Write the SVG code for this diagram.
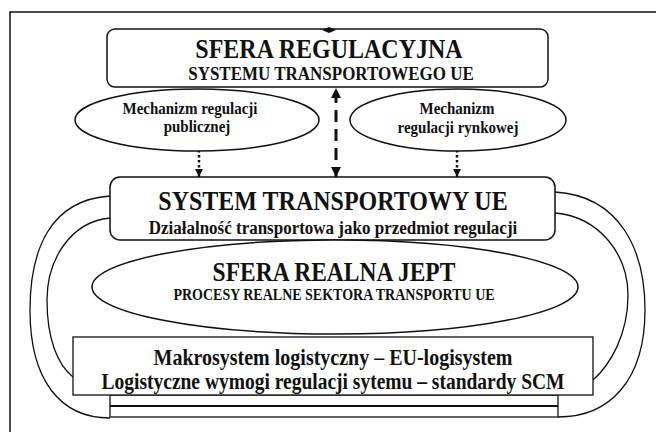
<svg xmlns="http://www.w3.org/2000/svg" width="656" height="432" viewBox="0 0 656 432">
<style>
.s{fill:#fff;stroke:#111;stroke-width:1.5}
.t{font-family:"Liberation Serif","Times New Roman",serif;font-weight:bold;fill:#111;text-anchor:middle}
.c{fill:none;stroke:#111;stroke-width:1.3}
</style>
<defs>
<marker id="ah" viewBox="0 0 10 10" refX="10" refY="5" markerWidth="8" markerHeight="8" markerUnits="userSpaceOnUse" orient="auto"><path d="M0,0 L10,5 L0,10 z" fill="#111"/></marker>
<marker id="ahb" viewBox="0 0 10 10" refX="10" refY="5" markerWidth="11" markerHeight="10" markerUnits="userSpaceOnUse" orient="auto-start-reverse"><path d="M0,0 L10,5 L0,10 z" fill="#111"/></marker>
</defs>
<rect width="656" height="432" fill="#fff"/>
<path d="M10,432 V12 H656" fill="none" stroke="#111" stroke-width="1.5"/>
<g id="connectors">
<path class="c" d="M110,196 C50,200 30,250 30,310 C30,380 60,418 110,418"/>
<path class="c" d="M110,218 C70,222 47,260 47,300 C47,340 58,365 73,377"/>
<path class="c" d="M555,192 C620,196 645,250 645,310 C645,380 610,417 558,417"/>
<path class="c" d="M555,213 C600,217 628,255 628,295 C628,335 610,365 593,380"/>
<line x1="199" y1="150" x2="199" y2="177" stroke="#111" stroke-width="2.5" stroke-dasharray="2.5,2.5" marker-end="url(#ah)"/>
<line x1="457" y1="150" x2="457" y2="177" stroke="#111" stroke-width="2.5" stroke-dasharray="2.5,2.5" marker-end="url(#ah)"/>
<line x1="336" y1="88" x2="336" y2="177" stroke="#111" stroke-width="3" stroke-dasharray="12,7" stroke-dashoffset="-3" marker-start="url(#ahb)" marker-end="url(#ahb)"/>
</g>
<g id="sfera-regulacyjna">
<rect class="s" x="107" y="29" width="441" height="58" rx="8"/>
<path d="M322,30 L329,27 L336,30 L329,33 z" fill="#111"/>
<text class="t" transform="translate(329,58) scale(1,1.15)" font-size="24">SFERA REGULACYJNA</text>
<text class="t" transform="translate(331,80) scale(1,1.15)" font-size="17">SYSTEMU TRANSPORTOWEGO UE</text>
</g>
<g id="mech-publ">
<ellipse class="s" cx="197" cy="120" rx="122" ry="31"/>
<text class="t" transform="translate(190,114) scale(1,1.15)" font-size="15">Mechanizm regulacji</text>
<text class="t" transform="translate(197,132) scale(1,1.15)" font-size="15">publicznej</text>
</g>
<g id="mech-rynk">
<ellipse class="s" cx="458" cy="120" rx="108" ry="31"/>
<text class="t" transform="translate(457,114) scale(1,1.15)" font-size="15">Mechanizm</text>
<text class="t" transform="translate(458,133) scale(1,1.15)" font-size="15">regulacji rynkowej</text>
</g>
<g id="system-transportowy">
<rect class="s" x="110" y="177" width="445" height="63" rx="10"/>
<text class="t" transform="translate(333,210) scale(1,1.12)" font-size="24">SYSTEM TRANSPORTOWY UE</text>
<text class="t" transform="translate(333,234) scale(1,1.12)" font-size="17">Działalność transportowa jako przedmiot regulacji</text>
</g>
<g id="sfera-realna">
<ellipse class="s" cx="335" cy="287" rx="243" ry="47"/>
<text class="t" transform="translate(334,281) scale(1,1.12)" font-size="23.5">SFERA REALNA JEPT</text>
<text class="t" transform="translate(334,300) scale(1,1.12)" font-size="14">PROCESY REALNE SEKTORA TRANSPORTU UE</text>
</g>
<g id="makrosystem">
<rect x="110" y="395" width="448" height="22" fill="#fff" stroke="#111" stroke-width="1.3"/>
<line x1="110" y1="406" x2="558" y2="406" stroke="#111" stroke-width="2.2"/>
<rect x="73" y="337" width="520" height="58" fill="#fff" stroke="#111" stroke-width="1.3"/>
<text class="t" transform="translate(333,365) scale(1,1.15)" font-size="20">Makrosystem logistyczny – EU-logisystem</text>
<text class="t" transform="translate(333,389) scale(1,1.15)" font-size="19.5">Logistyczne wymogi regulacji sytemu – standardy SCM</text>
</g>
</svg>
